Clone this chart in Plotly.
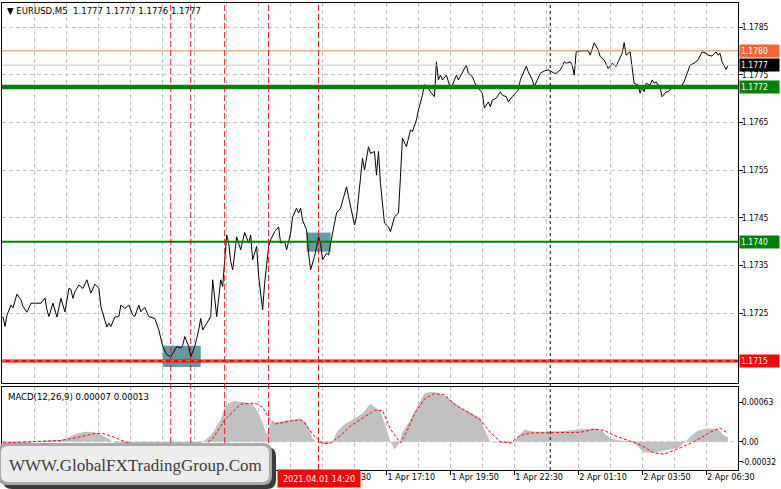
import numpy as np
import pandas as pd
import plotly.graph_objects as go

# ---------------- data ----------------
START = pd.Timestamp("2021-04-01 01:10")   # first bar of the window, M5 bars
BAR_MIN = 5

price_bars = [0, 1, 2, 4, 5, 7, 9, 10, 12, 14, 17, 19, 21, 22, 23, 25, 27, 28, 29, 31,
              33, 34, 35, 36, 38, 40, 42, 44, 46, 48, 49, 52, 53, 54, 56, 58, 59, 61, 63, 65,
              66, 68, 69, 71, 73, 76, 78, 80, 82, 84, 85, 87, 89, 90, 91, 93, 94, 96, 98, 99,
              100, 102, 104, 105, 106, 107, 109, 110, 111, 112, 113, 114, 115, 117, 118, 119, 121, 123, 124, 125,
              127, 128, 130, 131, 133, 134, 136, 138, 139, 141, 142, 144, 145, 147, 148, 149, 150, 152, 153, 154,
              156, 158, 159, 160, 162, 163, 165, 167, 169, 170, 172, 173, 175, 176, 177, 179, 180, 181, 182, 183,
              184, 186, 187, 188, 189, 191, 193, 194, 196, 198, 199, 200, 202, 203, 204, 205, 207, 208, 210, 211,
              213, 214, 216, 217, 218, 219, 220, 222, 224, 225, 227, 228, 230, 232, 233, 235, 237, 238, 240, 241,
              243, 244, 245, 247, 249, 250, 252, 253, 255, 258, 259, 262, 263, 265, 266, 268, 269, 271, 273, 274,
              276, 277, 279, 280, 281, 282, 284, 285, 286, 287, 289, 291, 293, 294, 296, 298, 299, 301, 303, 305,
              307, 308, 310, 311, 312, 314, 315, 316, 318, 319, 320, 321, 322, 324, 325, 326, 327, 329, 330, 332,
              333, 335, 336, 338, 339, 341, 343, 344, 346, 348, 350, 352, 353, 355, 357, 358, 359, 360, 362, 363]
price_close = [1.17243, 1.17222, 1.17246, 1.17267, 1.17261, 1.17290, 1.17278, 1.17264, 1.17252, 1.17271,
               1.17271, 1.17271, 1.17282, 1.17257, 1.17243, 1.17271, 1.17242, 1.17264, 1.17281, 1.17253,
               1.17302, 1.17300, 1.17281, 1.17295, 1.17309, 1.17302, 1.17320, 1.17292, 1.17311, 1.17302,
               1.17264, 1.17221, 1.17229, 1.17222, 1.17242, 1.17243, 1.17267, 1.17260, 1.17267, 1.17246,
               1.17243, 1.17267, 1.17253, 1.17262, 1.17243, 1.17239, 1.17215, 1.17180, 1.17163, 1.17159,
               1.17166, 1.17180, 1.17177, 1.17183, 1.17201, 1.17180, 1.17159, 1.17180, 1.17215, 1.17239,
               1.17215, 1.17229, 1.17243, 1.17320, 1.17278, 1.17243, 1.17320, 1.17306, 1.17362, 1.17414,
               1.17397, 1.17358, 1.17341, 1.17410, 1.17397, 1.17383, 1.17419, 1.17397, 1.17414, 1.17362,
               1.17390, 1.17327, 1.17257, 1.17313, 1.17390, 1.17404, 1.17421, 1.17431, 1.17397, 1.17400,
               1.17383, 1.17418, 1.17452, 1.17470, 1.17460, 1.17470, 1.17445, 1.17425, 1.17376, 1.17341,
               1.17369, 1.17410, 1.17397, 1.17362, 1.17376, 1.17372, 1.17418, 1.17460, 1.17470, 1.17487,
               1.17515, 1.17494, 1.17449, 1.17435, 1.17452, 1.17536, 1.17575, 1.17550, 1.17578, 1.17599,
               1.17585, 1.17589, 1.17540, 1.17589, 1.17522, 1.17439, 1.17431, 1.17421, 1.17452, 1.17460,
               1.17536, 1.17617, 1.17599, 1.17617, 1.17634, 1.17631, 1.17655, 1.17676, 1.17707, 1.17729,
               1.17723, 1.17714, 1.17704, 1.17777, 1.17739, 1.17749, 1.17739, 1.17749, 1.17722, 1.17728,
               1.17749, 1.17739, 1.17753, 1.17770, 1.17753, 1.17746, 1.17725, 1.17722, 1.17711, 1.17680,
               1.17693, 1.17683, 1.17697, 1.17701, 1.17714, 1.17707, 1.17704, 1.17693, 1.17704, 1.17718,
               1.17739, 1.17768, 1.17756, 1.17739, 1.17725, 1.17742, 1.17753, 1.17758, 1.17760, 1.17758,
               1.17753, 1.17753, 1.17760, 1.17767, 1.17777, 1.17774, 1.17777, 1.17770, 1.17749, 1.17798,
               1.17800, 1.17800, 1.17800, 1.17791, 1.17817, 1.17802, 1.17788, 1.17781, 1.17763, 1.17774,
               1.17767, 1.17777, 1.17795, 1.17817, 1.17791, 1.17798, 1.17767, 1.17732, 1.17728, 1.17711,
               1.17725, 1.17714, 1.17732, 1.17728, 1.17739, 1.17732, 1.17735, 1.17722, 1.17704, 1.17714,
               1.17714, 1.17722, 1.17728, 1.17725, 1.17722, 1.17735, 1.17760, 1.17770, 1.17774, 1.17781,
               1.17798, 1.17795, 1.17791, 1.17789, 1.17798, 1.17791, 1.17795, 1.17777, 1.17761, 1.17770]

macd_bars = [0, 9, 16, 21, 29, 32, 36, 41, 46, 51, 55, 59, 66, 74, 81, 89, 96, 100, 104, 106,
             109, 111, 113, 116, 121, 125, 128, 130, 132, 134, 139, 144, 149, 152, 155, 158, 161, 165, 167, 171,
             176, 180, 184, 186, 189, 191, 194, 196, 198, 200, 204, 208, 211, 214, 218, 223, 229, 234, 239, 241,
             244, 249, 255, 258, 261, 266, 274, 281, 289, 296, 300, 304, 309, 315, 317, 321, 325, 331, 338, 341,
             344, 348, 353, 358, 361, 363]
macd_main = [-0.00005, -0.00004, 0.0, 0.00002, 0.00003, 0.00005, 0.00012, 0.00016, 0.00015, 0.00008,
             0.0, -0.00008, -0.00015, -0.00012, -0.00015, -0.00018, -0.00010, 0.0, 0.00010, 0.00020,
             0.00035, 0.00055, 0.00062, 0.00065, 0.00063, 0.00060, 0.00045, 0.00030, 0.00012, 0.00030,
             0.00033, 0.00035, 0.00037, 0.00030, 0.00005, -0.00003, -0.00004, -0.00002, 0.00015, 0.00028,
             0.00037, 0.00045, 0.00061, 0.00055, 0.00050, 0.00030, 0.0, -0.00012, -0.00005, 0.00015,
             0.00035, 0.00060, 0.00077, 0.00080, 0.00078, 0.00070, 0.00055, 0.00047, 0.00038, 0.00020,
             0.0, -0.00002, -0.00003, 0.00008, 0.00019, 0.00016, 0.00016, 0.00017, 0.00020, 0.00021,
             0.00017, 0.00005, 0.00002, 0.00001, -0.00005, -0.00017, -0.00018, -0.00014, -0.00010, -0.00002,
             0.00008, 0.00018, 0.00021, 0.00020, 0.00010, 0.00007]

signal_bars = [0, 14, 29, 39, 46, 50, 55, 61, 71, 84, 94, 101, 105, 111, 119, 126, 130, 133, 136, 144,
               149, 151, 155, 159, 161, 164, 169, 174, 181, 186, 190, 194, 199, 202, 206, 211, 216, 221, 226, 234,
               239, 244, 249, 254, 259, 264, 279, 289, 296, 301, 306, 311, 319, 326, 331, 339, 346, 354, 359, 363]
macd_signal = [-0.00002, 0.0, 0.00002, 0.00008, 0.00013, 0.00013, 0.00008, 0.0, -0.00008, -0.00012,
               -0.00013, -0.00005, 0.00005, 0.00035, 0.00060, 0.00062, 0.00055, 0.00038, 0.00028, 0.00033,
               0.00035, 0.00030, 0.00012, 0.0, -0.00003, -0.00002, 0.00010, 0.00025, 0.00040, 0.00050,
               0.00050, 0.00020, -0.00002, 0.00015, 0.00045, 0.00068, 0.00077, 0.00075, 0.00060, 0.00045,
               0.00035, 0.00015, 0.0, -0.00002, 0.00010, 0.00014, 0.00015, 0.00015, 0.00020, 0.00018,
               0.00010, 0.00004, -0.00005, -0.00018, -0.00020, -0.00010, 0.0, 0.00015, 0.00022, 0.00013]

price_ticks = [1.1725, 1.1735, 1.1745, 1.1755, 1.1765, 1.1775, 1.1785]
macd_ticks = [0.00063, 0.0, -0.00032]
macd_tick_text = ["0.00063", "0.00", "-0.00032"]
time_ticks = ["2021-04-01 14:30", "2021-04-01 17:10", "2021-04-01 19:50", "2021-04-01 22:30",
              "2021-04-02 01:10", "2021-04-02 03:50", "2021-04-02 06:30"]

# horizontal levels: (price, line colour, line width, label bg)
level_prices = [1.1780, 1.1777, 1.17724, 1.1740, 1.1715]
level_colors = ["#e8843a", "#c8c8c8", "#008000", "#008000", "#ff0000"]
level_widths = [1, 1, 4.5, 2, 3]
label_colors = ["#f5652d", "#000000", "#008000", "#008000", "#ff0000"]

signal_times = ["2021-04-01 08:10", "2021-04-01 09:00", "2021-04-01 10:25",
                "2021-04-01 12:15", "2021-04-01 14:20"]
day_separator = "2021-04-02 00:00"
zone_start = ["2021-04-01 07:50", "2021-04-01 13:50"]
zone_end = ["2021-04-01 09:25", "2021-04-01 14:50"]
zone_low = [1.17137, 1.17379]
zone_high = [1.17182, 1.17419]

header = "▼ EURUSD,M5\u00a0 1.1777 1.1777 1.1776 1.1777"
macd_header = "MACD(12,26,9) 0.00007 0.00013"
logo_text = "WWW.GlobalFXTradingGroup.Com"
cursor_label = "2021.04.01 14:20"

# ---------------- layout geometry ----------------
W, H = 781, 489
ML, MR, MT, MB = 2, 43, 3, 19
PW, PH = W - ML - MR, H - MT - MB


def px_x(px):
    return (px - ML) / PW


def px_y(py):
    return (H - MB - py) / PH


def tt(bars):
    return START + pd.to_timedelta(np.asarray(bars) * BAR_MIN, unit="min")


FONT = "DejaVu Sans Condensed, DejaVu Sans, Tahoma, sans-serif"
GRID = "#c4c4c4"
FS = 8.5

fig = go.Figure()

fig.add_trace(go.Scatter(x=tt(macd_bars), y=macd_main, mode="lines", fill="tozeroy",
                         line=dict(width=0, color="#c0c0c0"), fillcolor="#c0c0c0",
                         xaxis="x2", yaxis="y2", hoverinfo="skip"))
fig.add_trace(go.Scatter(x=tt(signal_bars), y=macd_signal, mode="lines",
                         line=dict(width=1, color="#ff0000", dash="3px,2px"),
                         xaxis="x2", yaxis="y2", hoverinfo="skip"))
fig.add_trace(go.Scatter(x=tt(price_bars), y=price_close, mode="lines",
                         line=dict(width=1, color="#000000"), xaxis="x", yaxis="y"))

x_range = [START - pd.Timedelta(minutes=2.5), START + pd.Timedelta(minutes=1840)]
minor = dict(dtick=80 * 60 * 1000, tick0=START, showgrid=True, gridcolor=GRID,
             griddash="4px,3px", gridwidth=1, ticks="")

fig.update_layout(
    width=W, height=H, margin=dict(l=ML, r=MR, t=MT, b=MB),
    paper_bgcolor="white", plot_bgcolor="white", showlegend=False,
    font=dict(family=FONT, size=FS, color="#000000"),
    xaxis=dict(type="date", range=x_range, domain=[0, 1], anchor="y",
               showticklabels=False, ticks="", tickvals=time_ticks,
               showgrid=True, gridcolor=GRID, griddash="4px,3px", minor=minor,
               showline=True, mirror=True, linecolor="#000000", linewidth=1, zeroline=False),
    yaxis=dict(domain=[px_y(383), 1], range=[1.1785 - 356 / 47700, 1.1785 + 24 / 47700],
               autorange=False, side="right", anchor="x", tickvals=price_ticks,
               ticktext=[f"{v:.4f}" for v in price_ticks], ticks="outside", ticklen=4,
               ticklabelstandoff=-3,
               tickcolor="#000000", showgrid=True, gridcolor=GRID, griddash="4px,3px",
               showline=True, mirror=True, linecolor="#000000", linewidth=1, zeroline=False),
    xaxis2=dict(type="date", range=x_range, domain=[0, 1], anchor="y2", matches="x",
                tickvals=time_ticks, tickformat="%-d %b %H:%M", ticks="outside", ticklen=4,
                ticklabelstandoff=-2, tickfont=dict(size=9),
                tickcolor="#000000", ticklabelposition="outside right",
                showgrid=True, gridcolor=GRID, griddash="4px,3px", minor=minor,
                showline=True, mirror=True, linecolor="#000000", linewidth=1, zeroline=False),
    yaxis2=dict(domain=[0, px_y(387)], range=[-0.000453, 0.000875], autorange=False,
                side="right", anchor="x2", tickvals=macd_ticks, ticktext=macd_tick_text,
                ticks="outside", ticklen=4, tickcolor="#000000", showgrid=False,
                ticklabelstandoff=-3,
                showline=True, mirror=True, linecolor="#000000", linewidth=1, zeroline=False),
)

shapes = []
# supply / demand zones
for x0, x1, y0, y1 in zip(zone_start, zone_end, zone_low, zone_high):
    shapes.append(dict(type="rect", xref="x", yref="y", x0=x0, x1=x1, y0=y0, y1=y1,
                       fillcolor="#5f9ca0", line=dict(width=0), layer="between"))
# MACD zero line
shapes.append(dict(type="line", xref="paper", yref="y2", x0=0, x1=1, y0=0, y1=0,
                   line=dict(color=GRID, width=1, dash="4px,3px"), layer="below"))
# horizontal levels
for p, c, w in zip(level_prices, level_colors, level_widths):
    shapes.append(dict(type="line", xref="paper", yref="y", x0=0, x1=1, y0=p, y1=p,
                       line=dict(color=c, width=w), layer="above"))
shapes.append(dict(type="line", xref="paper", yref="y", x0=0, x1=1, y0=level_prices[4],
                   y1=level_prices[4], line=dict(color="#ff8c8c", width=1, dash="4px,4px"),
                   layer="above"))
# vertical signal lines
for t in signal_times:
    shapes.append(dict(type="line", xref="x", yref="paper", x0=t, x1=t, y0=0, y1=1,
                       line=dict(color="#e3141c", width=1, dash="6px,3px"), layer="above"))
shapes.append(dict(type="line", xref="x", yref="paper", x0=day_separator, x1=day_separator,
                   y0=0, y1=1, line=dict(color="#000000", width=1, dash="3px,3px"), layer="above"))


def rrect(x0, y0, x1, y1, r):
    pts = [
        f"M {px_x(x0 + r)} {px_y(y0)}",
        f"L {px_x(x1 - r)} {px_y(y0)}",
        f"Q {px_x(x1)} {px_y(y0)} {px_x(x1)} {px_y(y0 + r)}",
        f"L {px_x(x1)} {px_y(y1 - r)}",
        f"Q {px_x(x1)} {px_y(y1)} {px_x(x1 - r)} {px_y(y1)}",
        f"L {px_x(x0 + r)} {px_y(y1)}",
        f"Q {px_x(x0)} {px_y(y1)} {px_x(x0)} {px_y(y1 - r)}",
        f"L {px_x(x0)} {px_y(y0 + r)}",
        f"Q {px_x(x0)} {px_y(y0)} {px_x(x0 + r)} {px_y(y0)}",
        "Z",
    ]
    return " ".join(pts)


# logo plate
shapes.append(dict(type="path", xref="paper", yref="paper", path=rrect(3, 447, 276, 489, 9),
                   fillcolor="#3a3a3a", line=dict(width=0), layer="above"))
shapes.append(dict(type="path", xref="paper", yref="paper", path=rrect(-2, 443, 272, 485, 9),
                   fillcolor="#a9a9a9", line=dict(width=0), layer="above"))
shapes.append(dict(type="path", xref="paper", yref="paper", path=rrect(1, 446, 269, 482, 7),
                   fillcolor="#ececec", line=dict(width=0), layer="above"))
fig.update_layout(shapes=shapes)

ann = []
for p, bg in zip(level_prices, label_colors):
    ann.append(dict(xref="paper", yref="y", x=1, y=p, xanchor="left", yanchor="middle",
                    xshift=1, text=f"{p:.4f}", showarrow=False, bgcolor=bg, borderpad=1,
                    width=37, align="left", font=dict(color="#ffffff", size=FS, family=FONT)))
ann.append(dict(xref="paper", yref="paper", x=px_x(5), y=px_y(10), xanchor="left",
                yanchor="middle", text=header, showarrow=False,
                font=dict(size=9.5, family=FONT, color="#000000")))
ann.append(dict(xref="paper", yref="paper", x=px_x(6), y=px_y(396), xanchor="left",
                yanchor="middle", text=macd_header, showarrow=False,
                font=dict(size=9.5, family=FONT, color="#000000")))
ann.append(dict(xref="x", yref="paper", x=signal_times[-1], y=px_y(478.5), xanchor="center",
                yanchor="middle", text=cursor_label, showarrow=False, bgcolor="#ff0000",
                borderpad=1, width=80, height=15,
                font=dict(size=9, family=FONT, color="#ffffff")))
ann.append(dict(xref="paper", yref="paper", x=px_x(135), y=px_y(465), xanchor="center",
                yanchor="middle", text=logo_text, showarrow=False,
                font=dict(size=17, family="Liberation Serif, Times New Roman, serif",
                          color="#3b3b3b")))
fig.update_layout(annotations=ann)

fig.write_html("out.html", config={"displayModeBar": False},
               post_script="document.body.style.margin='0px';document.body.style.overflow='hidden';")
